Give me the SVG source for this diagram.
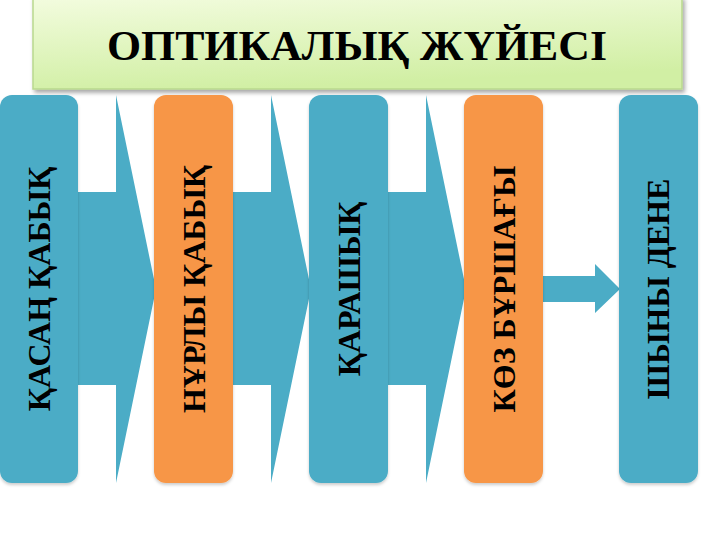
<svg xmlns="http://www.w3.org/2000/svg" width="720" height="540" viewBox="0 0 720 540">
  <defs>
    <linearGradient id="titleGrad" x1="0" y1="0" x2="0.3" y2="1">
      <stop offset="0" stop-color="#f3fcdf"/>
      <stop offset="1" stop-color="#d1efa4"/>
    </linearGradient>
    <filter id="shadow" x="-10%" y="-10%" width="120%" height="130%">
      <feDropShadow dx="2" dy="3" stdDeviation="2" flood-color="#000" flood-opacity="0.35"/>
    </filter>
    <filter id="boxShadow" x="-10%" y="-5%" width="120%" height="110%">
      <feDropShadow dx="0" dy="2" stdDeviation="1.5" flood-color="#000" flood-opacity="0.2"/>
    </filter>
  </defs>
  <style>
    .arrow { fill: #4bacc6; }
    .blue { fill: #4bacc6; }
    .orange { fill: #f79646; }
    .label { font-family: "Liberation Serif", "Times New Roman", serif; font-weight: bold; font-size: 32px; fill: #000; text-anchor: middle; }
    .title { font-family: "Liberation Serif", "Times New Roman", serif; font-weight: bold; font-size: 42px; fill: #000; text-anchor: middle; }
  </style>
  <rect width="720" height="540" fill="#ffffff"/>

  <g id="title">
    <rect x="33" y="-3" width="649" height="92" fill="url(#titleGrad)" stroke="#b9d98e" stroke-width="1.5" filter="url(#shadow)"/>
    <text class="title" x="357" y="60" textLength="500" lengthAdjust="spacingAndGlyphs">ОПТИКАЛЫҚ ЖҮЙЕСІ</text>
  </g>

  <g id="connectors">
    <polygon class="arrow" points="70,192 116,192 116,95 156,289 116,483 116,385 70,385"/>
    <polygon class="arrow" points="225,192 271,192 271,95 311,289 271,483 271,385 225,385"/>
    <polygon class="arrow" points="380,192 426,192 426,95 466,289 426,483 426,385 380,385"/>
    <polygon class="arrow" points="535,276 595,276 595,264 620,289 595,313 595,302 535,302"/>
  </g>

  <g id="node1">
    <rect class="blue" x="0" y="95" width="78" height="388" rx="12" filter="url(#boxShadow)"/>
    <text class="label" transform="translate(50,289) rotate(-90)">ҚАСАҢ ҚАБЫҚ</text>
  </g>
  <g id="node2">
    <rect class="orange" x="154" y="95" width="79" height="388" rx="12" filter="url(#boxShadow)"/>
    <text class="label" transform="translate(205,289) rotate(-90)">НҰРЛЫ ҚАБЫҚ</text>
  </g>
  <g id="node3">
    <rect class="blue" x="309" y="95" width="79" height="388" rx="12" filter="url(#boxShadow)"/>
    <text class="label" transform="translate(360,289) rotate(-90)">ҚАРАШЫҚ</text>
  </g>
  <g id="node4">
    <rect class="orange" x="464" y="95" width="79" height="388" rx="12" filter="url(#boxShadow)"/>
    <text class="label" transform="translate(515,289) rotate(-90)">КӨЗ БҰРШАҒЫ</text>
  </g>
  <g id="node5">
    <rect class="blue" x="619" y="95" width="79" height="388" rx="12" filter="url(#boxShadow)"/>
    <text class="label" transform="translate(669,289) rotate(-90)">ШЫНЫ ДЕНЕ</text>
  </g>
</svg>
